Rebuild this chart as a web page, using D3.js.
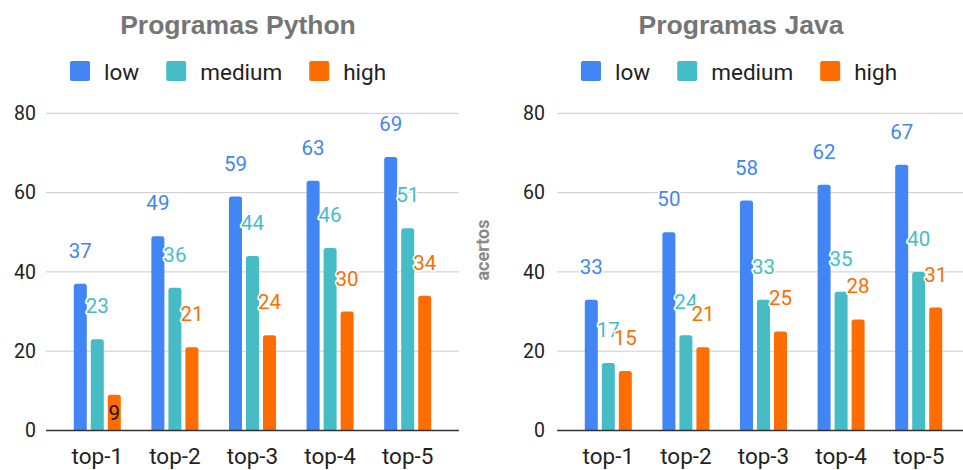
<!DOCTYPE html>
<html>
<head>
<meta charset="utf-8">
<script src="https://cdn.jsdelivr.net/npm/d3@7"></script>
<style>
  html, body { margin: 0; padding: 0; background: #fff; }
  svg { display: block; font-family: Roboto, "Noto Sans", Arial, sans-serif; }
</style>
</head>
<body>
<svg id="chart" width="963" height="470"></svg>
<script>
// Categories, series and tick values
const categories = ["top-1", "top-2", "top-3", "top-4", "top-5"];
const seriesNames = ["low", "medium", "high"];
const seriesColors = ["#4285F4", "#46BDC6", "#FF6D01"];
const yTicks = [0, 20, 40, 60, 80];

// Python programs
const pythonLow = [37, 49, 59, 63, 69];
const pythonMedium = [23, 36, 44, 46, 51];
const pythonHigh = [9, 21, 24, 30, 34];

// Java programs
const javaLow = [33, 50, 58, 62, 67];
const javaMedium = [17, 24, 33, 35, 40];
const javaHigh = [15, 21, 25, 28, 31];

// Value labels drawn inside their bar instead of above it
const pythonInsideLabels = [["top-1", "high"]];
const javaInsideLabels = [];

const svg = d3.select("#chart");

function drawPanel(opts) {
  const g = svg.append("g");
  const series = [opts.low, opts.medium, opts.high];

  const x0 = d3.scaleBand().domain(categories).range(opts.xRange)
    .paddingInner(0.394).paddingOuter(0.358);
  const x1 = d3.scaleBand().domain(seriesNames).range([0, x0.bandwidth()])
    .paddingInner(0.235).paddingOuter(0);
  const y = d3.scaleLinear().domain([0, 80]).range([430.5, 113.3]);

  // Title
  g.append("text")
    .attr("x", opts.titleX).attr("y", 34)
    .attr("text-anchor", "middle")
    .attr("font-family", "'Liberation Sans', Arial, sans-serif")
    .attr("font-size", 26.5).attr("font-weight", "bold")
    .attr("fill", "#757575")
    .text(opts.title);

  // Legend
  let lx = opts.legendX;
  seriesNames.forEach((name, i) => {
    g.append("rect")
      .attr("x", lx).attr("y", 61).attr("width", 20).attr("height", 20)
      .attr("rx", 2).attr("fill", seriesColors[i]);
    const t = g.append("text")
      .attr("x", lx + 34).attr("y", 79.5)
      .attr("font-size", 22.5).attr("fill", "#222")
      .text(name);
    lx += 34 + t.node().getComputedTextLength() + 27;
  });

  // Gridlines
  g.append("g").selectAll("line")
    .data(yTicks.filter(v => v !== 0))
    .join("line")
    .attr("x1", opts.xRange[0]).attr("x2", opts.xRange[1])
    .attr("y1", d => y(d)).attr("y2", d => y(d))
    .attr("stroke", "#cccccc").attr("stroke-width", 1);

  // Y axis tick labels
  const yAxis = d3.axisLeft(y).tickValues(yTicks).tickSize(0).tickPadding(0);
  const ya = g.append("g")
    .attr("transform", `translate(${opts.tickX},0)`)
    .call(yAxis);
  ya.select(".domain").remove();
  ya.selectAll("text")
    .attr("font-size", 19.5).attr("fill", "#222")
    .attr("font-family", "Roboto, sans-serif");

  // Y axis title
  if (opts.axisTitle) {
    g.append("text")
      .attr("transform", `translate(${opts.axisTitleX},250) rotate(-90)`)
      .attr("text-anchor", "middle")
      .attr("font-size", 18).attr("font-weight", "bold")
      .attr("fill", "#8a8a8a")
      .text(opts.axisTitle);
  }

  // Bars with rounded tops
  const rows = [];
  categories.forEach((c, ci) => {
    seriesNames.forEach((s, si) => {
      rows.push({ cat: c, ser: s, si: si, value: series[si][ci] });
    });
  });

  const r = 2.5;
  g.append("g").selectAll("path")
    .data(rows)
    .join("path")
    .attr("d", d => {
      const bx = x0(d.cat) + x1(d.ser);
      const w = x1.bandwidth();
      const top = y(d.value);
      const bottom = y(0);
      return `M${bx},${bottom}V${top + r}Q${bx},${top} ${bx + r},${top}` +
             `H${bx + w - r}Q${bx + w},${top} ${bx + w},${top + r}V${bottom}Z`;
    })
    .attr("fill", d => seriesColors[d.si]);

  // Baseline
  g.append("line")
    .attr("x1", opts.xRange[0]).attr("x2", opts.xRange[1])
    .attr("y1", y(0)).attr("y2", y(0))
    .attr("stroke", "#333").attr("stroke-width", 1.5);

  // X axis labels
  const xAxis = d3.axisBottom(x0).tickSize(0).tickPadding(0);
  const xa = g.append("g")
    .attr("transform", `translate(0,${y(0)})`)
    .call(xAxis);
  xa.select(".domain").remove();
  xa.selectAll("text")
    .attr("y", 33.5).attr("dy", null)
    .attr("font-size", 22.5).attr("fill", "#222")
    .attr("font-family", "Roboto, sans-serif");

  // Value labels
  const isInside = d => opts.inside.some(p => p[0] === d.cat && p[1] === d.ser);
  g.append("g").selectAll("text")
    .data(rows)
    .join("text")
    .attr("x", d => x0(d.cat) + x1(d.ser) + x1.bandwidth() / 2)
    .attr("y", d => isInside(d) ? y(d.value) + 25 : y(d.value) - 26)
    .attr("text-anchor", "middle")
    .attr("font-size", 20.5)
    .attr("fill", d => isInside(d) ? "#111" : seriesColors[d.si])
    .attr("stroke", d => isInside(d) ? "none" : "#fff")
    .attr("stroke-width", 3.5)
    .attr("stroke-linejoin", "round")
    .attr("paint-order", "stroke")
    .text(d => d.value);
}

drawPanel({
  title: "Programas Python",
  titleX: 238,
  legendX: 70,
  xRange: [46, 459],
  tickX: 36,
  low: pythonLow, medium: pythonMedium, high: pythonHigh,
  inside: pythonInsideLabels
});

drawPanel({
  title: "Programas Java",
  titleX: 741,
  legendX: 581,
  xRange: [557, 970],
  tickX: 545,
  axisTitle: "acertos",
  axisTitleX: 489,
  low: javaLow, medium: javaMedium, high: javaHigh,
  inside: javaInsideLabels
});
</script>
</body>
</html>
